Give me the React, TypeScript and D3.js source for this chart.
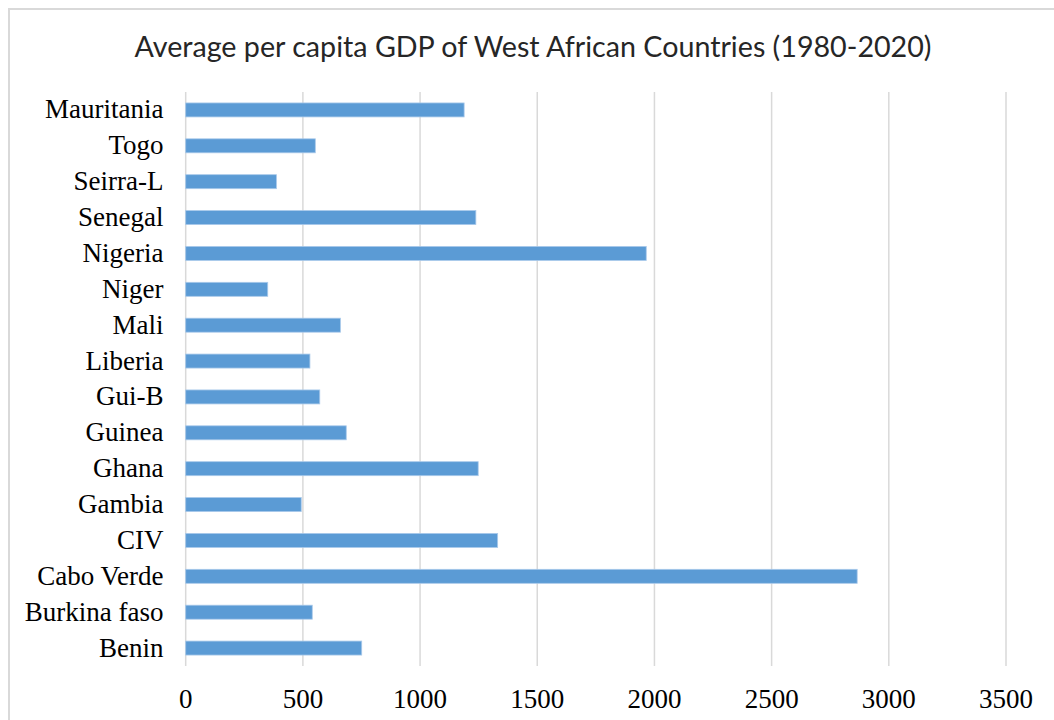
import React from "react";
import * as d3 from "d3";

const countries: string[] = [
  "Mauritania",
  "Togo",
  "Seirra-L",
  "Senegal",
  "Nigeria",
  "Niger",
  "Mali",
  "Liberia",
  "Gui-B",
  "Guinea",
  "Ghana",
  "Gambia",
  "CIV",
  "Cabo Verde",
  "Burkina faso",
  "Benin",
];

const gdpValues: number[] = [
  1188, 553, 387, 1238, 1965, 350, 660, 530, 572, 685, 1248, 493, 1331, 2865, 540, 751,
];

const xTicks: number[] = [0, 500, 1000, 1500, 2000, 2500, 3000, 3500];

const title = "Average per capita GDP of West African Countries (1980-2020)";

const W = 1054;
const H = 720;
const plot = { left: 185.7, right: 1006, top: 92, bottom: 666 };

const serifStyle: React.CSSProperties = {
  fontFamily: '"Liberation Serif", "Times New Roman", "DejaVu Serif", serif',
};

export default function App() {
  const x = d3.scaleLinear().domain([0, 3500]).range([plot.left, plot.right]);
  const y = d3
    .scaleBand<string>()
    .domain(countries)
    .range([plot.top, plot.bottom])
    .paddingInner(0.61)
    .paddingOuter(0.305);

  return (
    <svg
      width={W}
      height={H}
      style={{ position: "absolute", left: 0, top: 0, background: "#fff" }}
    >
      <rect x={0} y={0} width={W} height={H} fill="#fff" />
      {/* chart frame */}
      <rect x={9} y={9} width={1200} height={900} fill="none" stroke="#d9d9d9" strokeWidth={2} />

      <text
        x={533}
        y={57}
        textAnchor="middle"
        style={{ fontFamily: 'Lato, "Open Sans", sans-serif' }}
        fontSize={29}
        fill="#262626"
        textLength={797}
        lengthAdjust="spacingAndGlyphs"
      >
        {title}
      </text>

      {/* vertical gridlines */}
      {xTicks.map((t) => (
        <line
          key={"g" + t}
          x1={x(t)}
          x2={x(t)}
          y1={plot.top}
          y2={plot.bottom}
          stroke="#d9d9d9"
          strokeWidth={1.5}
        />
      ))}

      {/* bars */}
      {countries.map((c, i) => (
        <rect
          key={c}
          x={x(0)}
          y={y(c)!}
          width={x(gdpValues[i]) - x(0)}
          height={y.bandwidth()}
          fill="#5b9bd5"
          stroke="#a9c9ea"
          strokeWidth={0.8}
        />
      ))}

      {/* category labels */}
      {countries.map((c) => (
        <text
          key={"l" + c}
          x={163.5}
          y={y(c)! + y.bandwidth() / 2 + 8.5}
          textAnchor="end"
          style={serifStyle}
          fontSize={27}
          fill="#000"
        >
          {c}
        </text>
      ))}

      {/* x tick labels */}
      {xTicks.map((t) => (
        <text
          key={"t" + t}
          x={x(t)}
          y={708}
          textAnchor="middle"
          style={serifStyle}
          fontSize={27}
          fill="#000"
        >
          {t}
        </text>
      ))}
    </svg>
  );
}
